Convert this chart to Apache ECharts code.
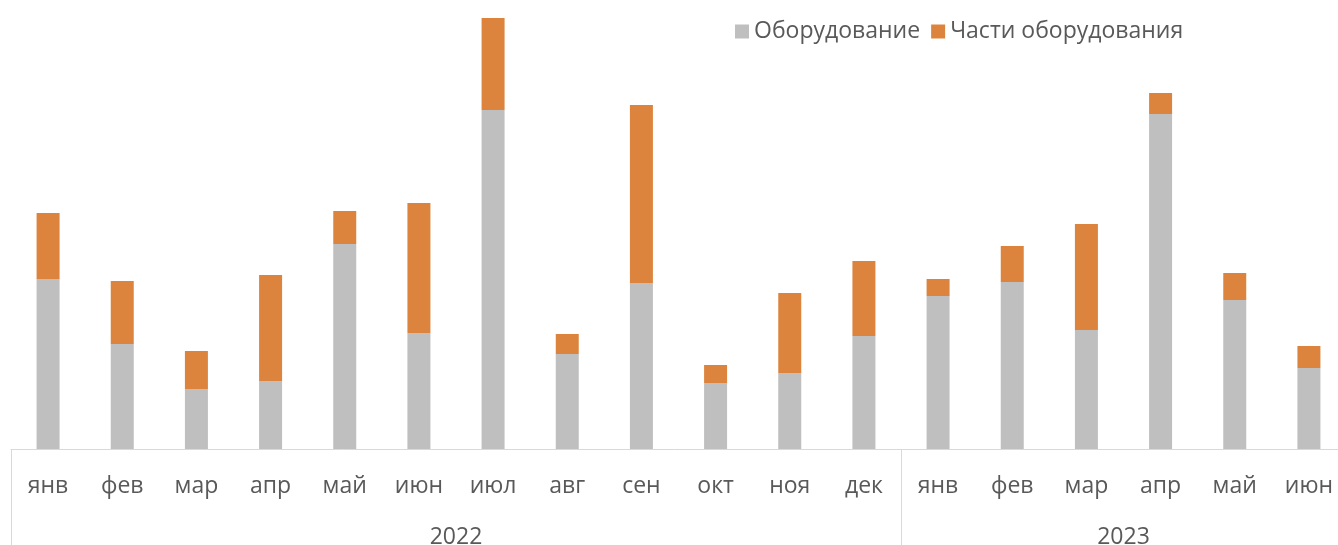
<!DOCTYPE html>
<html lang="ru">
<head>
    <meta charset="UTF-8">
    <title>Оборудование по месяцам</title>
    <script src="https://cdn.jsdelivr.net/npm/echarts@6/dist/echarts.min.js"></script>
    <style>
        html, body { margin: 0; padding: 0; background: #fff; }
    </style>
</head>
<body>
    <div id="main" style="width: 1338px;height:545px;"></div>
    <script type="text/javascript">
        // месяцы (нижний ряд подписей)
        const months = ['янв', 'фев', 'мар', 'апр', 'май', 'июн', 'июл', 'авг', 'сен', 'окт', 'ноя', 'дек',
                        'янв', 'фев', 'мар', 'апр', 'май', 'июн'];

        // годы и сколько месяцев в каждом
        const years = ['2022', '2023'];
        const yearSpans = [12, 6];

        // значения серий
        const equipment = [170, 105, 60, 68, 205, 116, 339, 95, 166, 66, 76, 113,
                           153, 167, 119, 335, 149, 81];
        const parts = [66, 63, 38, 106, 33, 130, 92, 20, 178, 18, 80, 75,
                       17, 36, 106, 21, 27, 22];

        const seriesNames = ['Оборудование', 'Части оборудования'];

        // подписи годов ставим на границы категорий (ось без boundaryGap, 19 точек)
        const yearSlots = [];
        const yearBounds = [0];
        for (let i = 0; i <= months.length; i++) yearSlots.push('');
        let start = 0;
        for (let k = 0; k < years.length; k++) {
            const mid = start + yearSpans[k] / 2;
            yearSlots[mid] = years[k];
            start += yearSpans[k];
            yearBounds.push(start);
        }

        const font = 'Open Sans';
        const textColor = '#595959';
        const lineColor = '#d9d9d9';

        var myChart = echarts.init(document.getElementById('main'));

        var option = {
            animation: false,
            legend: {
                data: seriesNames,
                left: 730,
                top: 15,
                icon: 'rect',
                itemWidth: 14,
                itemHeight: 14,
                itemGap: 11,
                textStyle: { fontFamily: font, fontSize: 23, color: textColor }
            },
            grid: {
                left: 11,
                top: 17,
                right: -8,
                bottom: 96,
                outerBoundsMode: 'none',
                containLabel: false
            },
            xAxis: [{
                type: 'category',
                data: months,
                axisLine: { lineStyle: { color: lineColor, width: 1 } },
                axisTick: { show: false },
                axisLabel: {
                    interval: 0,
                    margin: 26,
                    fontFamily: font,
                    fontSize: 23,
                    color: textColor
                }
            }, {
                type: 'category',
                data: yearSlots,
                position: 'bottom',
                boundaryGap: false,
                axisLine: { show: false },
                axisTick: {
                    show: true,
                    length: 100,
                    interval: function (index) { return yearBounds.indexOf(index) >= 0; },
                    lineStyle: { color: lineColor, width: 1 }
                },
                axisLabel: {
                    interval: 0,
                    margin: 77,
                    fontFamily: font,
                    fontSize: 23,
                    color: textColor
                }
            }],
            yAxis: {
                type: 'value',
                min: 0,
                max: 432,
                show: false,
                splitLine: { show: false }
            },
            series: [{
                name: seriesNames[0],
                type: 'bar',
                stack: 'total',
                barWidth: 23,
                itemStyle: { color: '#bfbfbf' },
                data: equipment
            }, {
                name: seriesNames[1],
                type: 'bar',
                stack: 'total',
                barWidth: 23,
                itemStyle: { color: '#dc843e' },
                data: parts
            }]
        };

        myChart.setOption(option);
    </script>
</body>
</html>
